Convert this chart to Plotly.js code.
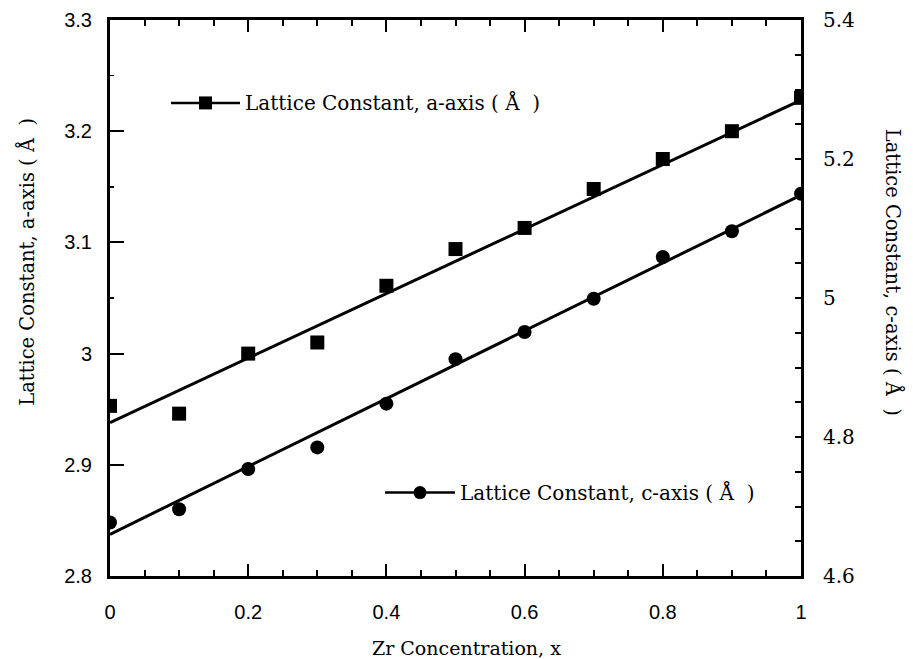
<!DOCTYPE html>
<html>
<head>
<meta charset="utf-8">
<script src="https://cdn.plot.ly/plotly-3.0.1.min.js"></script>
<style>html,body{margin:0;padding:0;background:#fff;}#chart{width:913px;height:659px;}</style>
</head>
<body>
<div id="chart"></div>
<script>
// Data
const zrConcentration = [0, 0.1, 0.2, 0.3, 0.4, 0.5, 0.6, 0.7, 0.8, 0.9, 1.0];
const latticeA = [2.953, 2.946, 3.000, 3.010, 3.061, 3.094, 3.113, 3.148, 3.175, 3.200, 3.230];
const latticeC = [4.677, 4.696, 4.754, 4.785, 4.848, 4.912, 4.951, 4.999, 5.059, 5.096, 5.150];
const fitX = [0, 1];
const fitA = [2.938, 3.228];
const fitC = [4.660, 5.148];
const nameA = "Lattice Constant, a-axis ( Å\u00a0\u00a0)";
const nameC = "Lattice Constant, c-axis ( Å\u00a0\u00a0)";
const xTitle = "Zr Concentration, x";
const yTitleA = "Lattice Constant, a-axis ( Å\u00a0\u00a0)";
const yTitleC = "Lattice Constant, c-axis ( Å\u00a0\u00a0)";

const serif = "DejaVu Serif, serif";
const sans = "Liberation Sans, Arial, sans-serif";

// plot-area geometry (pixels) used to place the hand-made legend and titles
const M = {l: 110, r: 112, t: 20, b: 82.5};
const W = 913, H = 659;
const pw = W - M.l - M.r, ph = H - M.t - M.b;
const px = v => (v - M.l) / pw;
const py = v => (H - M.b - v) / ph;

const traces = [
  {x: fitX, y: fitA, mode: 'lines', line: {color: '#000', width: 3}, hoverinfo: 'skip'},
  {x: zrConcentration, y: latticeA, mode: 'markers', marker: {symbol: 'square', size: 14, color: '#000'}},
  {x: fitX, y: fitC, mode: 'lines', line: {color: '#000', width: 3}, yaxis: 'y2', hoverinfo: 'skip'},
  {x: zrConcentration, y: latticeC, mode: 'markers', marker: {symbol: 'circle', size: 14, color: '#000'}, yaxis: 'y2'}
];

function legendItem(x0, x1, yc, symbol, text) {
  const xc = (x0 + x1) / 2, s = 6.5;
  const shapes = [
    {type: 'line', xref: 'paper', yref: 'paper', x0: px(x0), x1: px(x1), y0: py(yc), y1: py(yc), line: {color: '#000', width: 2.5}},
    {type: symbol, xref: 'paper', yref: 'paper', x0: px(xc - s), x1: px(xc + s), y0: py(yc + s), y1: py(yc - s), fillcolor: '#000', line: {color: '#000', width: 0}}
  ];
  const ann = {text: text, xref: 'paper', yref: 'paper', x: px(x1 + 3), y: py(yc), xanchor: 'left', yanchor: 'middle', showarrow: false,
    font: {family: serif, size: 20, color: '#000'}};
  return {shapes, ann};
}
const legA = legendItem(171, 240, 103, 'rect', nameA);
const legC = legendItem(385, 455, 493, 'circle', nameC);

const layout = {
  width: W, height: H,
  margin: M,
  paper_bgcolor: '#fff', plot_bgcolor: '#fff',
  showlegend: false,
  xaxis: {
    range: [0, 1], dtick: 0.2, tick0: 0, ticks: 'inside', ticklen: 12, tickwidth: 2, tickcolor: '#000',
    minor: {dtick: 0.05, ticks: 'inside', ticklen: 6, tickwidth: 2, tickcolor: '#000'},
    showline: true, linecolor: '#000', linewidth: 3, mirror: 'ticks', showgrid: false, zeroline: false,
    tickfont: {family: sans, size: 20, color: '#000'}, ticklabelstandoff: 16
  },
  yaxis: {
    range: [2.8, 3.3], dtick: 0.1, tick0: 2.8, ticks: 'inside', ticklen: 14, tickwidth: 2, tickcolor: '#000',
    minor: {dtick: 0.05, ticks: 'inside', ticklen: 4, tickwidth: 1.5, tickcolor: '#000'},
    showline: true, linecolor: '#000', linewidth: 3, showgrid: false, zeroline: false,
    tickfont: {family: sans, size: 20, color: '#000'}, ticklabelstandoff: 11
  },
  yaxis2: {
    range: [4.6, 5.4], dtick: 0.2, tick0: 4.6, overlaying: 'y', side: 'right', ticks: 'inside', ticklen: 6, tickwidth: 2, tickcolor: '#000',
    minor: {dtick: 0.05, ticks: 'inside', ticklen: 6, tickwidth: 2, tickcolor: '#000'},
    showline: true, linecolor: '#000', linewidth: 3, showgrid: false, zeroline: false,
    tickfont: {family: serif, size: 20, color: '#000'}, ticklabelstandoff: 15
  },
  shapes: [...legA.shapes, ...legC.shapes],
  annotations: [
    legA.ann, legC.ann,
    {text: xTitle, xref: 'paper', yref: 'paper', x: px(467), y: py(649), xanchor: 'center', yanchor: 'middle', showarrow: false,
     font: {family: serif, size: 19, color: '#000'}},
    {text: yTitleA, xref: 'paper', yref: 'paper', x: px(27), y: py(262), xanchor: 'center', yanchor: 'middle', textangle: -90, showarrow: false,
     font: {family: serif, size: 19.5, color: '#000'}},
    {text: yTitleC, xref: 'paper', yref: 'paper', x: px(893), y: py(272), xanchor: 'center', yanchor: 'middle', textangle: 90, showarrow: false,
     font: {family: serif, size: 19.5, color: '#000'}}
  ]
};

Plotly.newPlot('chart', traces, layout, {displayModeBar: false, staticPlot: true});
</script>
</body>
</html>
